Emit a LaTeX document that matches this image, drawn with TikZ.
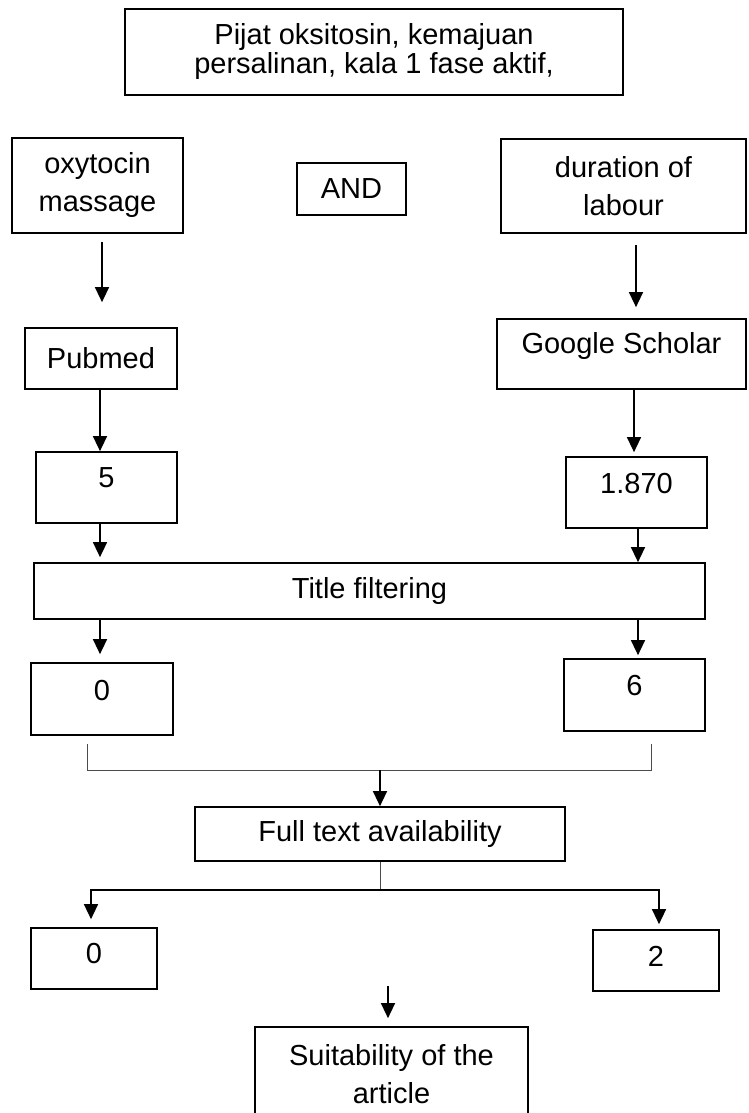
\documentclass[tikz,border=0pt]{standalone}
\usepackage{fontspec}
\setmainfont{Liberation Sans}
\usetikzlibrary{arrows.meta}
\tikzset{
  box/.style={draw, line width=1.7pt, inner sep=0pt, align=center},
  arr/.style={line width=1.4pt, -{Triangle[width=14pt,length=15pt]}},
  thin/.style={line width=1pt, draw=black!70},
}

\begin{document}
\begin{tikzpicture}[x=1pt,y=-1pt,font=\fontsize{29}{38}\selectfont]
  \useasboundingbox (0,0) rectangle (748,1113);
  \clip (0,0) rectangle (748,1113);

  % keywords
  \node[box, minimum width=498pt, minimum height=86pt, font=\fontsize{29}{29}\selectfont] (key) at (374,52) {Pijat oksitosin, kemajuan\\persalinan, kala 1 fase aktif,};
  \node[box, minimum width=171pt, minimum height=95pt] (oxy) at (97.5,185.5) {oxytocin\\massage};
  \node[box, minimum width=109pt, minimum height=52pt] (and) at (351.5,189) {AND};
  \node[box, minimum width=245pt, minimum height=94pt] (dur) at (623.5,186) {duration of\\labour};

  % databases
  \node[box, minimum width=152pt, minimum height=61pt] (pub) at (101,358.5) {Pubmed};
  \node[box, minimum width=249pt, minimum height=70pt, text depth=23pt] (goo) at (621.5,354) {Google Scholar};
  \node[box, minimum width=141pt, minimum height=71pt, text depth=19pt] (hitP) at (106.5,487.5) {5};
  \node[box, minimum width=141pt, minimum height=71pt, text depth=19pt] (hitG) at (636.5,492.5) {1.870};

  % screening
  \node[box, minimum width=671pt, minimum height=56pt] (title) at (369.5,591) {Title filtering};
  \node[box, minimum width=142pt, minimum height=72pt, text depth=18pt] (titP) at (102,699) {0};
  \node[box, minimum width=141pt, minimum height=72pt, text depth=20pt] (titG) at (634.5,695) {6};
  \node[box, minimum width=370pt, minimum height=54pt] (full) at (380,834) {Full text availability};
  \node[box, minimum width=126pt, minimum height=61pt, text depth=11pt] (fulP) at (94,958.5) {0};
  \node[box, minimum width=126pt, minimum height=61pt, text depth=9pt] (fulG) at (656,960.5) {2};
  \node[box, minimum width=273pt, minimum height=95pt] (suit) at (391.5,1074.5) {Suitability of the\\article};

  % arrows
  \draw[arr] ([xshift=4.5pt,yshift=-8pt]oxy.south) -- ([xshift=1pt,yshift=25pt]pub.north);
  \draw[arr] ([xshift=12.5pt,yshift=-11pt]dur.south) -- ([xshift=14.5pt,yshift=11pt]goo.north);
  \draw[arr] ([xshift=-1pt]pub.south) -- ([xshift=-6.5pt]hitP.north);
  \draw[arr] ([xshift=12.5pt]goo.south) -- ([xshift=-2.5pt,yshift=4pt]hitG.north);
  \draw[arr] ([xshift=-6.5pt]hitP.south) -- ([xshift=-269.5pt,yshift=5pt]title.north);
  \draw[arr] ([xshift=1.5pt]hitG.south) -- ([xshift=268.5pt]title.north);
  \draw[arr] ([xshift=-269.5pt]title.south) -- ([xshift=-2pt,yshift=8pt]titP.north);
  \draw[arr] ([xshift=268.5pt]title.south) -- ([xshift=3.5pt,yshift=3pt]titG.north);

  \draw[thin] ([xshift=-15pt,yshift=-8pt]titP.south) -- ++(0,27) -| ([xshift=16.5pt,yshift=-12pt]titG.south);
  \coordinate (merge) at (380,770);
  \draw[arr] (merge) -- (full.north);

  \draw[thin] (full.south) -- ++(0,28) coordinate (split);
  \draw[arr] (split) -| ([xshift=-3pt,yshift=8pt]fulP.north);
  \draw[arr] (split) -| ([xshift=3pt,yshift=5pt]fulG.north);

  \coordinate (gap) at (388,986);
  \draw[arr] (gap) -- ([xshift=-3.5pt,yshift=8pt]suit.north);
\end{tikzpicture}
\end{document}
